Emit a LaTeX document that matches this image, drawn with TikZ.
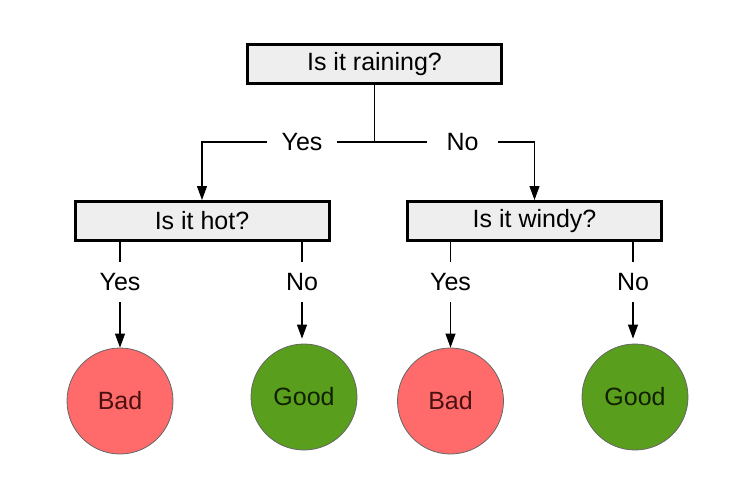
\documentclass[tikz,border=0pt]{standalone}
\usepackage{fontspec}
\setmainfont{Liberation Sans}
\usetikzlibrary{arrows.meta}
\definecolor{badred}{HTML}{FF6B6B}
\definecolor{goodgreen}{HTML}{5A9E1E}
\definecolor{qgray}{HTML}{EEEEEE}
\begin{document}
\begin{tikzpicture}[x=1pt, y=-1pt,
		question/.style={draw, line width=3pt, fill=qgray, minimum width=254pt, minimum height=39pt, inner sep=0pt, font=\fontsize{25}{29}\selectfont},
		answer/.style={minimum width=70pt, minimum height=40pt, inner sep=0pt, font=\fontsize{25}{29}\selectfont},
		leaf/.style={draw=black!60, line width=0.8pt, circle, minimum size=106pt, inner sep=0pt, font=\fontsize{25}{29}\selectfont},
		link/.style={line width=1.1pt},
		arrow/.style={link, -{Triangle[length=14pt, width=10pt]}}]
			\useasboundingbox (0, 0) rectangle (745, 499);

			\draw (374.5, 64) 	node[question] 	(rain) 		{Is it raining?};
			\draw (202, 221) 	node[question] 	(hot) 		{Is it hot?};
			\draw (534.5, 221) 	node[question] 	(windy) 	{Is it windy?};

			\draw (302, 142) 	node[answer] 	(rain_yes) 	{Yes};
			\draw (462.5, 142) 	node[answer] 	(rain_no) 	{No};
			\draw (120, 282) 	node[answer] 	(hot_yes) 	{Yes};
			\draw (302, 282) 	node[answer] 	(hot_no) 	{No};
			\draw (450.5, 282) 	node[answer] 	(windy_yes) {Yes};
			\draw (633, 282) 	node[answer] 	(windy_no) 	{No};

			\draw (120, 401) 	node[leaf, fill=badred, text={rgb,255:red,75;green,16;blue,16}] 	(bad_a) 	{Bad};
			\draw (304, 397) 	node[leaf, fill=goodgreen, text={rgb,255:red,16;green,32;blue,0}] 	(good_a) 	{Good};
			\draw (450.5, 401) 	node[leaf, fill=badred, text={rgb,255:red,75;green,16;blue,16}] 	(bad_b) 	{Bad};
			\draw (635, 397) 	node[leaf, fill=goodgreen, text={rgb,255:red,16;green,32;blue,0}] 	(good_b) 	{Good};

			\coordinate (fork) at (rain.south |- rain_yes);

			\draw[link] (rain.south) -- (fork) -- (rain_yes.east);
			\draw[link] (fork) -- (rain_no.west);
			\draw[arrow] (rain_yes.west) -| (hot.north);
			\draw[arrow] (rain_no.east) -| (windy.north);

			\draw[link] (hot.south -| hot_yes) -- (hot_yes.north);
			\draw[link] (hot.south -| hot_no) -- (hot_no.north);
			\draw[link] (windy.south -| windy_yes) -- (windy_yes.north);
			\draw[link] (windy.south -| windy_no) -- (windy_no.north);

			\draw[arrow] (hot_yes.south) -- (hot_yes.south |- bad_a.north);
			\draw[arrow, shorten >=5pt] (hot_no.south) -- (hot_no.south |- good_a.north);
			\draw[arrow] (windy_yes.south) -- (windy_yes.south |- bad_b.north);
			\draw[arrow, shorten >=5pt] (windy_no.south) -- (windy_no.south |- good_b.north);
		\end{tikzpicture}
\end{document}
